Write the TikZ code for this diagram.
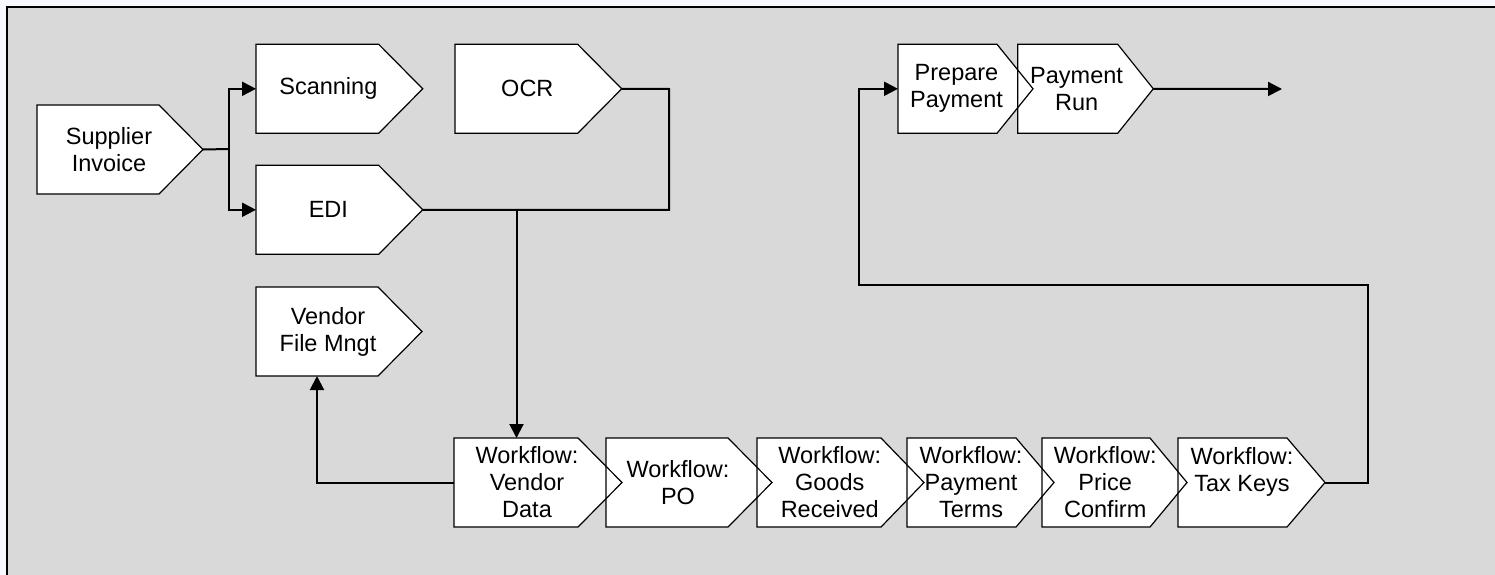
\documentclass[tikz,border=0pt]{standalone}
\usepackage{fontspec}
\setmainfont{Liberation Sans}
\usetikzlibrary{arrows.meta}

\pgfdeclarelayer{panel}
\pgfdeclarelayer{fills}
\pgfdeclarelayer{outlines}
\pgfsetlayers{panel,fills,outlines,main}

\definecolor{panelgray}{HTML}{D9D9D9}
\definecolor{pagetint}{HTML}{F8F9FE}

\tikzset{
  boxframe/.style={rectangle, draw=none, inner sep=0pt, outer sep=0pt, minimum height=89pt},
  boxline/.style={draw=black, line width=1.2pt, line join=miter},
  boxtext/.style={align=center, inner sep=0pt, font=\fontsize{23.5}{27}\selectfont},
  conn/.style={draw=black, line width=2pt},
  arrowconn/.style={conn, -{Triangle[length=14pt,width=14pt]}},
}

% #1 name, #2 left x, #3 top y, #4 total width, #5 pointer depth, #6 label
\newcommand{\procbox}[6]{%
  \node[boxframe, minimum width=#4pt, anchor=north west] (#1) at (#2,#3) {};
  \begin{pgfonlayer}{fills}
    \fill[white] (#1.north west) -- ([xshift=-#5pt]#1.north east) -- (#1.east)
      -- ([xshift=-#5pt]#1.south east) -- (#1.south west) -- cycle;
  \end{pgfonlayer}
  \begin{pgfonlayer}{outlines}
    \draw[boxline] (#1.north west) -- ([xshift=-#5pt]#1.north east) -- (#1.east)
      -- ([xshift=-#5pt]#1.south east) -- (#1.south west) -- cycle;
  \end{pgfonlayer}
  \node[boxtext] (#1-label) at ([xshift=-#5pt/4]#1.center) {#6};
}

\begin{document}
\begin{tikzpicture}[x=1pt, y=-1pt]
  \useasboundingbox (0,0) rectangle (1495,575);

  % grey panel with its top and left border
  \begin{pgfonlayer}{panel}
    \fill[pagetint] (0,0) rectangle (1495,575);
    \fill[panelgray] (7,7) rectangle (1495,575);
    \draw[line width=2pt] (1495,7) -- (7,7) -- (7,575);
  \end{pgfonlayer}

  % invoice intake
  \procbox{si}{37}{105}{166}{44}{Supplier\\Invoice}
  \procbox{scan}{256}{44.3}{166.7}{44}{Scanning}
  \procbox{edi}{256}{165.3}{166.7}{44}{EDI}
  \procbox{ocr}{455}{44.3}{166.7}{44}{OCR}
  \procbox{vfm}{256}{287}{166}{44}{Vendor\\File Mngt}

  % payment
  \procbox{pp}{898}{44.3}{135}{36}{Prepare\\Payment}
  \procbox{pr}{1017.7}{44.3}{135.6}{35.6}{Payment\\Run}

  % workflow chain
  \procbox{wvd}{454}{438}{168}{44}{Workflow:\\Vendor\\Data}
  \procbox{wpo}{606}{438}{166}{44}{Workflow:\\PO}
  \procbox{wgr}{757}{438}{167}{43}{Workflow:\\Goods\\Received}
  \procbox{wpt}{907}{438}{147}{38}{Workflow:\\Payment\\Terms}
  \procbox{wpc}{1042}{438}{145}{37}{Workflow:\\Price\\Confirm}
  \procbox{wtk}{1178}{438}{147}{38}{Workflow:\\Tax Keys\\\mbox{}}

  % connectors
  \coordinate (split) at (229,149);
  \draw[conn] (si.east) -- (split);
  \draw[arrowconn] (split) |- (scan.west);
  \draw[arrowconn] (split) |- (edi.west);

  \coordinate (ocrturn) at (669,89);
  \draw[conn] (ocr.east) -- (ocrturn) |- (edi.east);
  \coordinate (drop) at (516.5,210);
  \draw[arrowconn] (drop) -- (drop |- wvd.north);

  \draw[arrowconn] (wvd.west) -| ([xshift=-22pt]vfm.south);

  \coordinate (riseR) at (1368,285);
  \coordinate (riseL) at (859,285);
  \draw[arrowconn] (wtk.east) -| (riseR) -- (riseL) |- (pp.west);

  \coordinate (exit) at (1282,89);
  \draw[arrowconn] (pr.east) -- (exit);
\end{tikzpicture}
\end{document}
